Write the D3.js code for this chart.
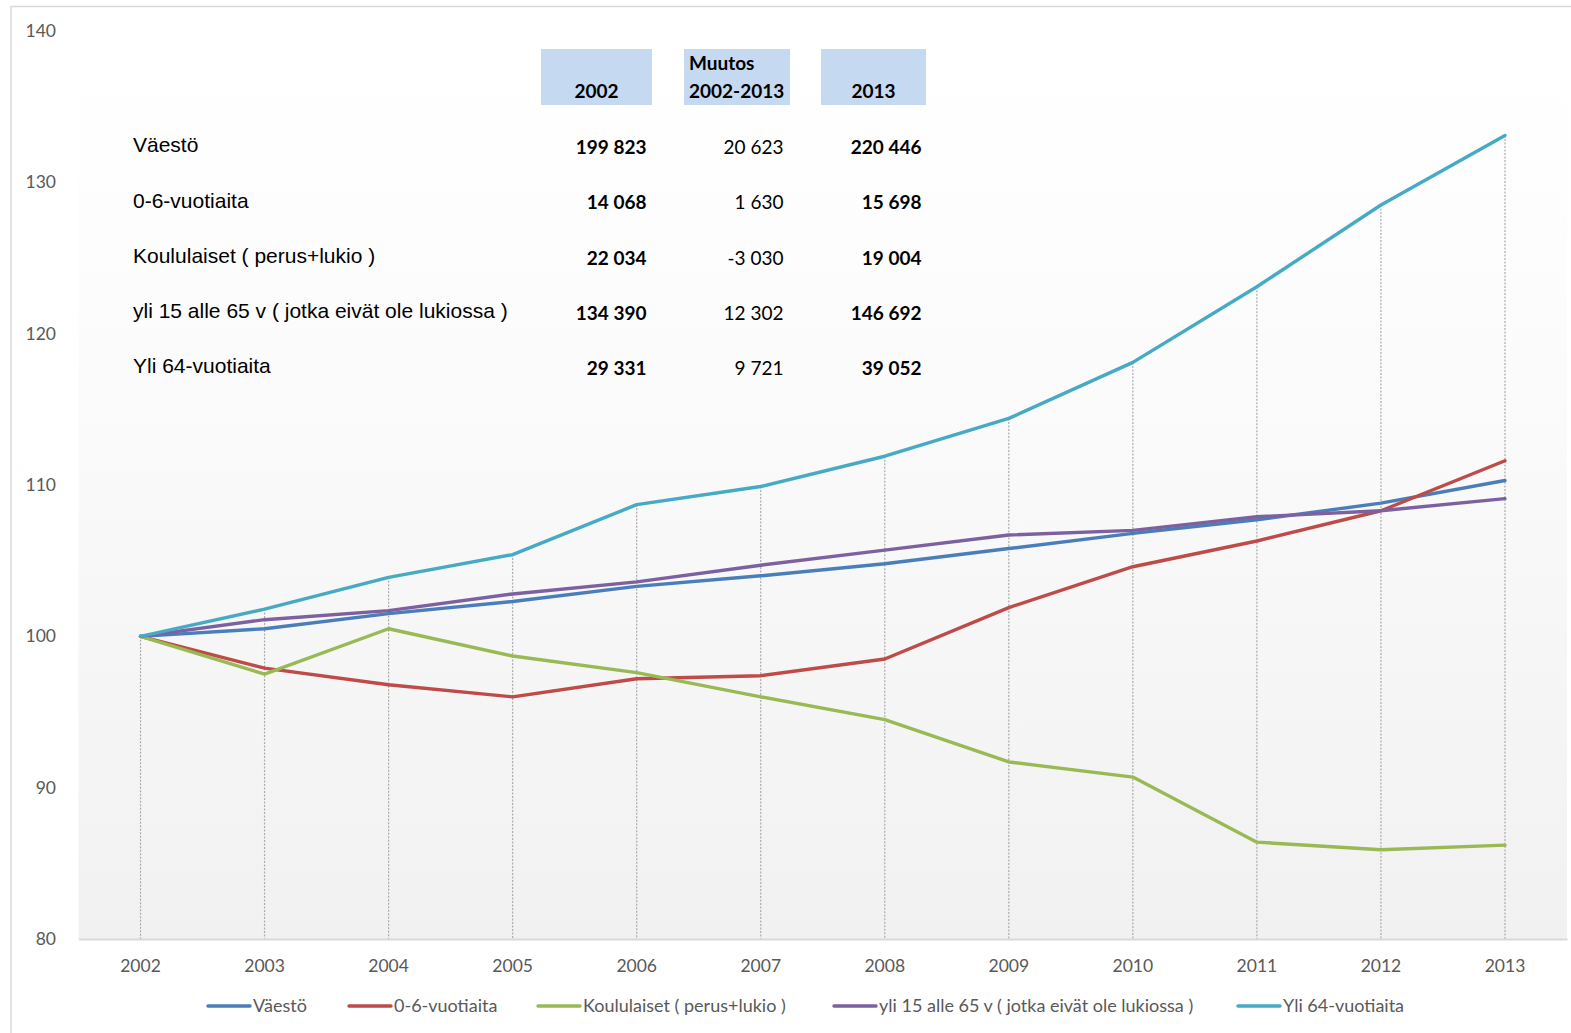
<!DOCTYPE html>
<html>
<head>
<meta charset="utf-8">
<script src="https://cdn.jsdelivr.net/npm/d3@7"></script>
<style>
  html, body { margin: 0; padding: 0; background: #ffffff; }
  svg { display: block; }
</style>
</head>
<body>
<svg id="chart" width="1571" height="1033"></svg>
<script>
// ---------- DATA ----------
const years = ["2002","2003","2004","2005","2006","2007","2008","2009","2010","2011","2012","2013"];
const seriesNames = ["Väestö","0-6-vuotiaita","Koululaiset ( perus+lukio )","yli 15 alle 65 v ( jotka eivät ole lukiossa )","Yli 64-vuotiaita"];
const vaesto      = [100, 100.5, 101.5, 102.3, 103.3, 104.0, 104.8, 105.8, 106.8, 107.7, 108.8, 110.3];
const alle7       = [100, 97.9, 96.8, 96.0, 97.2, 97.4, 98.5, 101.9, 104.6, 106.3, 108.3, 111.6];
const koululaiset = [100, 97.5, 100.5, 98.7, 97.6, 96.0, 94.5, 91.7, 90.7, 86.4, 85.9, 86.2];
const tyoikaiset  = [100, 101.1, 101.7, 102.8, 103.6, 104.7, 105.7, 106.7, 107.0, 107.9, 108.3, 109.1];
const yli64       = [100, 101.8, 103.9, 105.4, 108.7, 109.9, 111.9, 114.4, 118.1, 123.1, 128.5, 133.1];
const seriesColors = ["#4a7ebb","#be4b48","#98b954","#7d60a0","#46aac5"];
const yTicks = [80, 90, 100, 110, 120, 130, 140];

// table
const tableHeaders = [["2002"], ["Muutos","2002-2013"], ["2013"]];
const tableLabels = ["Väestö","0-6-vuotiaita","Koululaiset ( perus+lukio )","yli 15 alle 65 v ( jotka eivät ole lukiossa )","Yli 64-vuotiaita"];
const table2002   = ["199 823","14 068","22 034","134 390","29 331"];
const tableChange = ["20 623","1 630","-3 030","12 302","9 721"];
const table2013   = ["220 446","15 698","19 004","146 692","39 052"];

// ---------- LAYOUT ----------
const svg = d3.select("#chart");
const plot = { left: 78.5, right: 1567, top: 31, bottom: 939 };
const sans = "Lato, 'Open Sans', sans-serif";

const x = d3.scaleBand().domain(years).range([plot.left, plot.right]).padding(0);
const y = d3.scaleLinear().domain([80, 140]).range([plot.bottom, plot.top]);
const cx = d => x(d) + x.bandwidth() / 2;

// outer border
svg.append("rect").attr("x", 11).attr("y", 6.5).attr("width", 1700).attr("height", 1200)
  .attr("fill", "#ffffff").attr("stroke", "#d9d9d9").attr("stroke-width", 1.5);

// plot gradient
const defs = svg.append("defs");
const grad = defs.append("linearGradient").attr("id", "plotGrad")
  .attr("x1", 0).attr("y1", 0).attr("x2", 0).attr("y2", 1);
grad.append("stop").attr("offset", "0%").attr("stop-color", "#ffffff");
grad.append("stop").attr("offset", "25%").attr("stop-color", "#fdfdfd");
grad.append("stop").attr("offset", "100%").attr("stop-color", "#f1f1f1");
svg.append("rect").attr("x", plot.left).attr("y", plot.top)
  .attr("width", plot.right - plot.left).attr("height", plot.bottom - plot.top)
  .attr("fill", "url(#plotGrad)");

// drop lines
const allSeries = [vaesto, alle7, koululaiset, tyoikaiset, yli64];
const maxes = years.map((yr, i) => d3.max(allSeries, s => s[i]));
svg.append("g").selectAll("line").data(years).join("line")
  .attr("x1", d => cx(d)).attr("x2", d => cx(d))
  .attr("y1", (d, i) => y(maxes[i])).attr("y2", y(80))
  .attr("stroke", "#ababab").attr("stroke-width", 1.2).attr("stroke-dasharray", "2,1.5");

// x axis
const xAxis = svg.append("g").attr("transform", `translate(0,${plot.bottom})`)
  .call(d3.axisBottom(x).tickSize(0).tickPadding(21));
xAxis.select(".domain").attr("stroke", "#d9d9d9").attr("stroke-width", 2);
xAxis.selectAll("text").attr("font-family", sans).attr("font-size", "17.5px").attr("fill", "#595959");

// y axis (labels only)
const yAxis = svg.append("g").attr("transform", `translate(56,0)`)
  .call(d3.axisLeft(y).tickValues(yTicks).tickSize(0).tickPadding(0));
yAxis.select(".domain").remove();
yAxis.selectAll("text").attr("font-family", sans).attr("font-size", "17.5px").attr("fill", "#595959");

// lines
const line = d3.line().x((d, i) => cx(years[i])).y(d => y(d));
svg.append("g").selectAll("path").data(allSeries).join("path")
  .attr("d", d => line(d)).attr("fill", "none")
  .attr("stroke", (d, i) => seriesColors[i]).attr("stroke-width", 3.4)
  .attr("stroke-linejoin", "round").attr("stroke-linecap", "round");

// ---------- TABLE ----------
const boxes = [{ x: 541, w: 111 }, { x: 684, w: 106 }, { x: 821, w: 105 }];
const tg = svg.append("g");
tg.selectAll("rect").data(boxes).join("rect")
  .attr("x", d => d.x).attr("y", 49).attr("width", d => d.w).attr("height", 56)
  .attr("fill", "#c5d9f1");
// headers
tg.append("text").attr("x", boxes[0].x + boxes[0].w / 2).attr("y", 98).attr("text-anchor", "middle")
  .attr("font-family", sans).attr("font-weight", 700).attr("font-size", "19px").text(tableHeaders[0][0]);
tg.append("text").attr("x", 689).attr("y", 70).attr("font-family", sans).attr("font-weight", 700)
  .attr("font-size", "19px").text(tableHeaders[1][0]);
tg.append("text").attr("x", 689).attr("y", 98).attr("font-family", sans).attr("font-weight", 700)
  .attr("font-size", "19px").text(tableHeaders[1][1]);
tg.append("text").attr("x", boxes[2].x + boxes[2].w / 2).attr("y", 98).attr("text-anchor", "middle")
  .attr("font-family", sans).attr("font-weight", 700).attr("font-size", "19px").text(tableHeaders[2][0]);

const rowY = [152, 207.5, 263, 318, 373];
tg.append("g").selectAll("text").data(tableLabels).join("text")
  .attr("x", 133).attr("y", (d, i) => rowY[i])
  .attr("font-family", "'Liberation Sans', Arial, sans-serif").attr("font-size", "21px").attr("fill", "#000")
  .text(d => d);
const cols = [{ data: table2002, x: 646.5, w: 700 }, { data: tableChange, x: 783.5, w: 400 }, { data: table2013, x: 921.5, w: 700 }];
cols.forEach(c => {
  tg.append("g").selectAll("text").data(c.data).join("text")
    .attr("x", c.x).attr("y", (d, i) => rowY[i] + 1.5).attr("text-anchor", "end")
    .attr("font-family", sans).attr("font-weight", c.w).attr("font-size", "19px").attr("fill", "#000")
    .text(d => d);
});

// ---------- LEGEND ----------
const legendX = [208, 349, 538, 834, 1238];
const lg = svg.append("g");
seriesNames.forEach((name, i) => {
  lg.append("line").attr("x1", legendX[i]).attr("x2", legendX[i] + 42)
    .attr("y1", 1006).attr("y2", 1006).attr("stroke", seriesColors[i]).attr("stroke-width", 3.4)
    .attr("stroke-linecap", "round");
  lg.append("text").attr("x", legendX[i] + 45).attr("y", 1006).attr("dy", "0.35em")
    .attr("font-family", sans).attr("font-size", "18px").attr("fill", "#595959").text(name);
});
</script>
</body>
</html>
